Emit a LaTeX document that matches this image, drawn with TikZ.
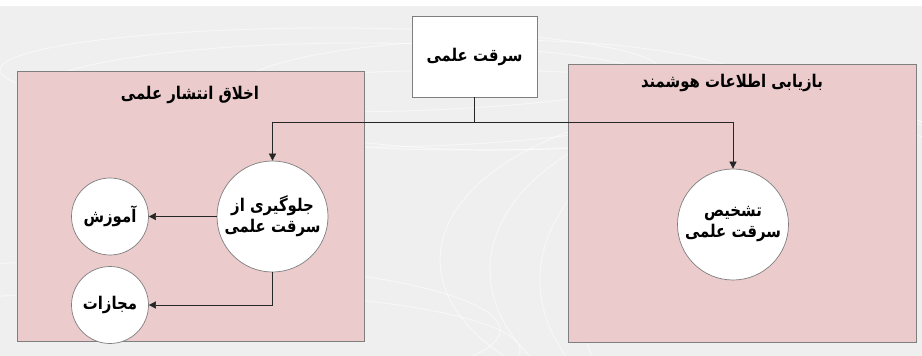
\documentclass[tikz,border=0pt]{standalone}
\usepackage{fontspec}
\newfontfamily\fa[Script=Arabic, FakeStretch=0.85]{DejaVu Sans}
\TeXXeTstate=1
\usetikzlibrary{arrows.meta}
\definecolor{bgray}{HTML}{EFEFEF}
\definecolor{panelpink}{HTML}{EBCBCB}
\definecolor{edgegray}{HTML}{7F7F7F}
\tikzset{
  rtl/.style={font=\fa\bfseries\fontsize{17.5}{21}\selectfont, align=center},
  panel/.style={draw=edgegray, fill=panelpink, line width=0.8pt, inner sep=0pt},
  topbox/.style={draw=edgegray, fill=white, line width=0.8pt, inner sep=0pt, rtl},
  disc/.style={circle, draw=edgegray, fill=white, line width=0.7pt, inner sep=0pt, rtl},
  arr/.style={draw=black!85, line width=0.6pt, -{Triangle[length=7pt,width=7pt]}},
  swirl/.style={draw=white, line width=0.9pt, opacity=0.55}
}
\begin{document}
\begin{tikzpicture}[x=1pt,y=-1pt]
  \useasboundingbox (0,0) rectangle (922,356);
  % backdrop
  \fill[white] (0,0) rectangle (922,356);
  \fill[bgray] (0,6) rectangle (922,356);
  \begin{scope}
    \clip (0,6) rectangle (922,356);
    \draw[swirl] (330,70) ellipse [x radius=330, y radius=42];
    \draw[swirl] (360,95) ellipse [x radius=330, y radius=52];
    \draw[swirl] (470,110) ellipse [x radius=300, y radius=40];
    \draw[swirl] (500,95) ellipse [x radius=270, y radius=55];
    \draw[swirl] (760,260) ellipse [x radius=320, y radius=160];
    \draw[swirl] (780,270) ellipse [x radius=290, y radius=170];
    \draw[swirl] (800,280) ellipse [x radius=260, y radius=175];
    \draw[swirl] (820,300) ellipse [x radius=240, y radius=180];
    \draw[swirl] (120,330) ellipse [x radius=380, y radius=70];
    \draw[swirl] (160,350) ellipse [x radius=360, y radius=60];
  \end{scope}

  % two pink panels
  \node[panel, minimum width=347pt, minimum height=270pt] (ethics) at (190.5,206) {};
  \node[panel, minimum width=348pt, minimum height=278pt] (retrieval) at (742,203) {};
  \node[rtl] (ethicsT) at (190,95) {\beginR اخلاق انتشار علمی\endR};
  \node[rtl] (retrievalT) at (732,83) {\beginR بازیابی اطلاعات هوشمند\endR};

  % top box
  \node[topbox, minimum width=125pt, minimum height=81pt] (src) at (474.5,56.5) {\beginR سرقت علمی\endR};

  % circles
  \node[disc, minimum size=111pt] (prev) at (272.5,216.5) {\beginR جلوگیری از\endR\\\beginR سرقت علمی\endR};
  \node[disc, minimum size=77pt] (teach) at (110,216.5) {\beginR آموزش\endR};
  \node[disc, minimum size=77pt] (penal) at (110,305) {\beginR مجازات\endR};
  \node[disc, minimum size=111pt] (detect) at (733,224.5) {\beginR تشخیص\endR\\\beginR سرقت علمی\endR};

  % connectors
  \coordinate (split) at (474.5,122);
  \draw[arr] (src.south) -- (split) -| (prev.north);
  \draw[arr] (split) -| (detect.north);
  \draw[arr] (prev) -- (teach);
  \draw[arr] (prev.south) |- (penal.east);
\end{tikzpicture}
\end{document}
